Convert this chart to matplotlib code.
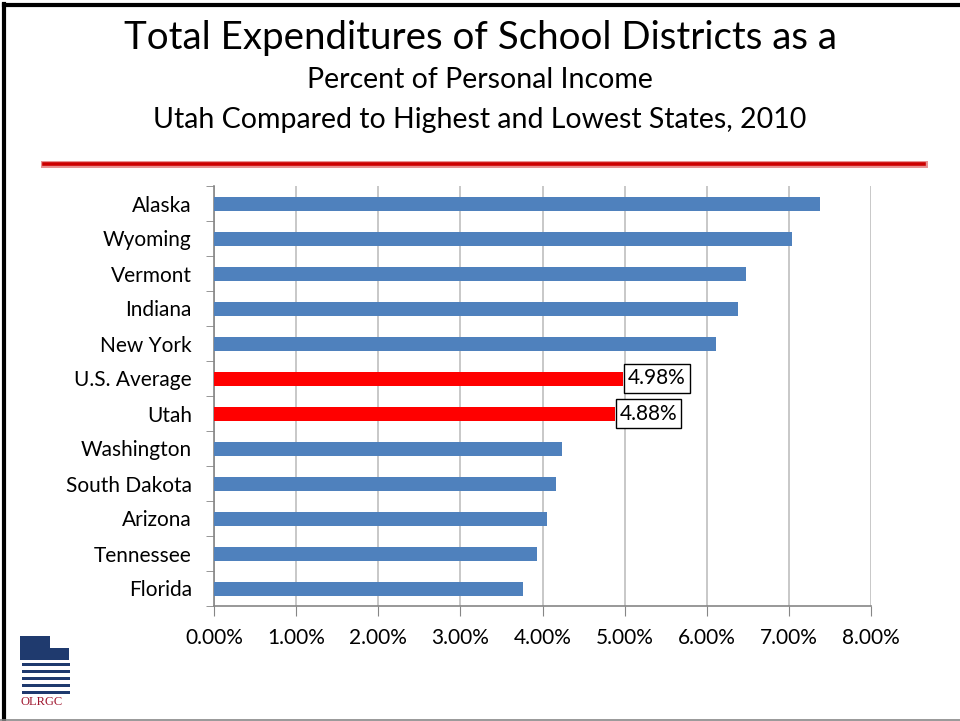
import matplotlib
matplotlib.use("Agg")
import matplotlib.pyplot as plt
from matplotlib.patches import Rectangle, Polygon
from matplotlib.lines import Line2D

plt.rcParams['font.family'] = ['Lato', 'DejaVu Sans']

states = ["Alaska", "Wyoming", "Vermont", "Indiana", "New York", "U.S. Average",
          "Utah", "Washington", "South Dakota", "Arizona", "Tennessee", "Florida"]
values = [7.38, 7.04, 6.48, 6.38, 6.11, 4.98, 4.88, 4.24, 4.17, 4.05, 3.93, 3.76]
highlight = ["U.S. Average", "Utah"]
xticks = [0, 1, 2, 3, 4, 5, 6, 7, 8]
title1 = "Total Expenditures of School Districts as a"
title2 = "Percent of Personal Income"
title3 = "Utah Compared to Highest and Lowest States, 2010"

fig = plt.figure(figsize=(9.6, 7.21), dpi=100)
ax = fig.add_axes([214/960, 1-606/721, (871-214)/960, (606-186)/721])

n = len(states)
ypos = list(range(n))[::-1]
colors = ['#FF0000' if s in highlight else '#4F81BD' for s in states]
ax.barh(ypos, values, height=0.4, color=colors, zorder=3)

ax.set_xlim(0, 8)
ax.set_ylim(-0.5, n - 0.5)
ax.set_xticks(xticks)
ax.set_xticklabels([f"{v:.2f}%" for v in xticks], fontsize=15)
ax.set_yticks(ypos)
ax.set_yticklabels(states, fontsize=15)
ax.tick_params(axis='y', length=0, pad=16)
ax.tick_params(axis='x', length=7, color='#868686', pad=9)
ax.set_yticks([i - 0.5 for i in range(n + 1)], minor=True)
ax.tick_params(axis='y', which='minor', length=6, color='#868686')
ax.grid(axis='x', color='#BFBFBF', linewidth=1.2, zorder=0)
for sp in ['top', 'right']:
    ax.spines[sp].set_visible(False)
for sp in ['left', 'bottom']:
    ax.spines[sp].set_color('#868686')
    ax.spines[sp].set_linewidth(1.2)

for s, v, y in zip(states, values, ypos):
    if s in highlight:
        ax.text(v + 0.06, y, f"{v:.2f}%", fontsize=15, va='center', ha='left',
                bbox=dict(boxstyle='square,pad=0.2', fc='white', ec='black', lw=1), zorder=5)

# Titles
fig.text(0.5, 1-38/721, title1, ha='center', va='center', fontsize=27.7)
fig.text(0.5, 1-80/721, title2, ha='center', va='center', fontsize=20.5)
fig.text(0.5, 1-120/721, title3, ha='center', va='center', fontsize=20.5)

# Red divider lines
fig.add_artist(Line2D([44/960, 924/960], [1-163.5/721, 1-163.5/721], color='#E89090', lw=5))
fig.add_artist(Line2D([44/960, 924/960], [1-164.2/721, 1-164.2/721], color='#CC0000', lw=2.6))

# Slide borders
fig.add_artist(Line2D([4/960, 4/960], [0, 1-4/721], color='black', lw=3))
fig.add_artist(Line2D([4/960, 1], [1-4.5/721, 1-4.5/721], color='black', lw=3))
fig.add_artist(Line2D([0, 1], [1-719.5/721, 1-719.5/721], color='#888888', lw=1.2))

# Logo approximation
navy = '#1F3A6E'
fig.add_artist(Polygon([(20/960, 1-636/721), (50/960, 1-636/721), (50/960, 1-648/721),
                        (69/960, 1-648/721), (69/960, 1-660/721), (20/960, 1-660/721)],
                       closed=True, transform=fig.transFigure, fc=navy, ec='none'))
for yy in [663, 670, 677, 684, 691]:
    fig.add_artist(Rectangle((22/960, 1-(yy+3)/721), 48/960, 3/721,
                             transform=fig.transFigure, fc=navy, ec='none'))
fig.text(42/960, 1-702/721, "OLRGC", ha='center', va='center', fontsize=9,
         color='#A01830', family=['Liberation Serif', 'DejaVu Serif'])

fig.savefig("out.png", dpi=100)
